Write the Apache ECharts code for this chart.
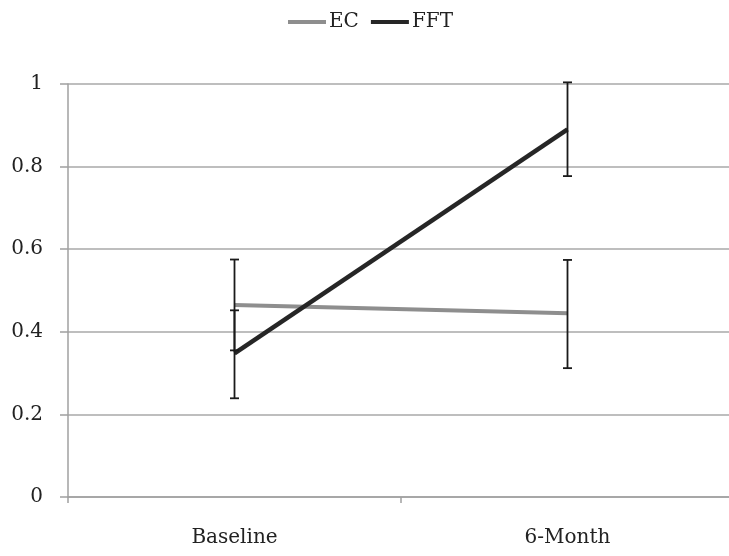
<!DOCTYPE html>
<html><head><meta charset="utf-8">
<script src="https://cdn.jsdelivr.net/npm/echarts@6/dist/echarts.min.js"></script>
<style>html,body{margin:0;padding:0;background:#fff}#c{width:729px;height:556px}</style>
</head><body><div id="c"></div>
<script>
const categories = ['Baseline', '6-Month'];
const ecValues = [0.465, 0.445];
const ecLow = [0.355, 0.312];
const ecHigh = [0.575, 0.574];
const fftValues = [0.348, 0.890];
const fftLow = [0.239, 0.777];
const fftHigh = [0.452, 1.004];
const yTicks = [0, 0.2, 0.4, 0.6, 0.8, 1];

const FONT = 'DejaVu Serif';
const chart = echarts.init(document.getElementById('c'));

function errSeries(name, low, high) {
  return {
    type: 'custom',
    name: name + ' err',
    z: 5,
    silent: true,
    data: categories.map((c, i) => [i, low[i], high[i]]),
    renderItem: function (params, api) {
      const x = api.value(0);
      const lo = api.coord([x, api.value(1)]);
      const hi = api.coord([x, api.value(2)]);
      const hw = 4.5;
      const st = { stroke: '#1a1a1a', lineWidth: 1.8 };
      return {
        type: 'group',
        children: [
          { type: 'line', shape: { x1: lo[0], y1: lo[1], x2: hi[0], y2: hi[1] }, style: st },
          { type: 'line', shape: { x1: hi[0] - hw, y1: hi[1], x2: hi[0] + hw, y2: hi[1] }, style: st },
          { type: 'line', shape: { x1: lo[0] - hw, y1: lo[1], x2: lo[0] + hw, y2: lo[1] }, style: st }
        ]
      };
    }
  };
}

chart.setOption({
  animation: false,
  backgroundColor: '#fff',
  legend: {
    top: 7,
    left: 283,
    data: [
      { name: 'EC', itemStyle: { color: '#8e8e8e' } },
      { name: 'FFT', itemStyle: { color: '#262626' } }
    ],
    icon: 'rect',
    itemWidth: 38,
    itemHeight: 4,
    itemGap: 12,
    textStyle: { fontFamily: FONT, fontSize: 20, color: '#222', padding: [0, 0, 0, -2] }
  },
  grid: { left: 68, top: 84, width: 666, height: 413, outerBoundsMode: 'none' },
  xAxis: {
    type: 'category',
    data: categories,
    boundaryGap: true,
    axisLine: { lineStyle: { color: '#a0a0a0', width: 1.5 } },
    axisTick: { show: true, length: 6, lineStyle: { color: '#a0a0a0', width: 1.5 } },
    axisLabel: { fontFamily: FONT, fontSize: 20, color: '#222', margin: 31 }
  },
  yAxis: {
    type: 'value',
    min: 0, max: 1, interval: 0.2,
    axisLine: { show: true, lineStyle: { color: '#a0a0a0', width: 1.5 } },
    axisTick: { show: true, length: 8, lineStyle: { color: '#a0a0a0', width: 1.5 } },
    splitLine: { lineStyle: { color: '#a8a8a8', width: 1.5 } },
    axisLabel: {
      fontFamily: FONT, fontSize: 20, color: '#222', margin: 25,
      formatter: v => { const t = yTicks.find(t => Math.abs(t - v) < 1e-9); return String(t !== undefined ? t : v); }
    }
  },
  series: [
    { name: 'EC', type: 'line', data: ecValues, showSymbol: false, symbol: 'none', z: 3,
      lineStyle: { color: '#8e8e8e', width: 4 }, itemStyle: { color: '#8e8e8e' } },
    { name: 'FFT', type: 'line', data: fftValues, showSymbol: false, symbol: 'none', z: 4,
      lineStyle: { color: '#262626', width: 4.5 }, itemStyle: { color: '#262626' } },
    errSeries('EC', ecLow, ecHigh),
    errSeries('FFT', fftLow, fftHigh)
  ]
});
</script></body></html>
